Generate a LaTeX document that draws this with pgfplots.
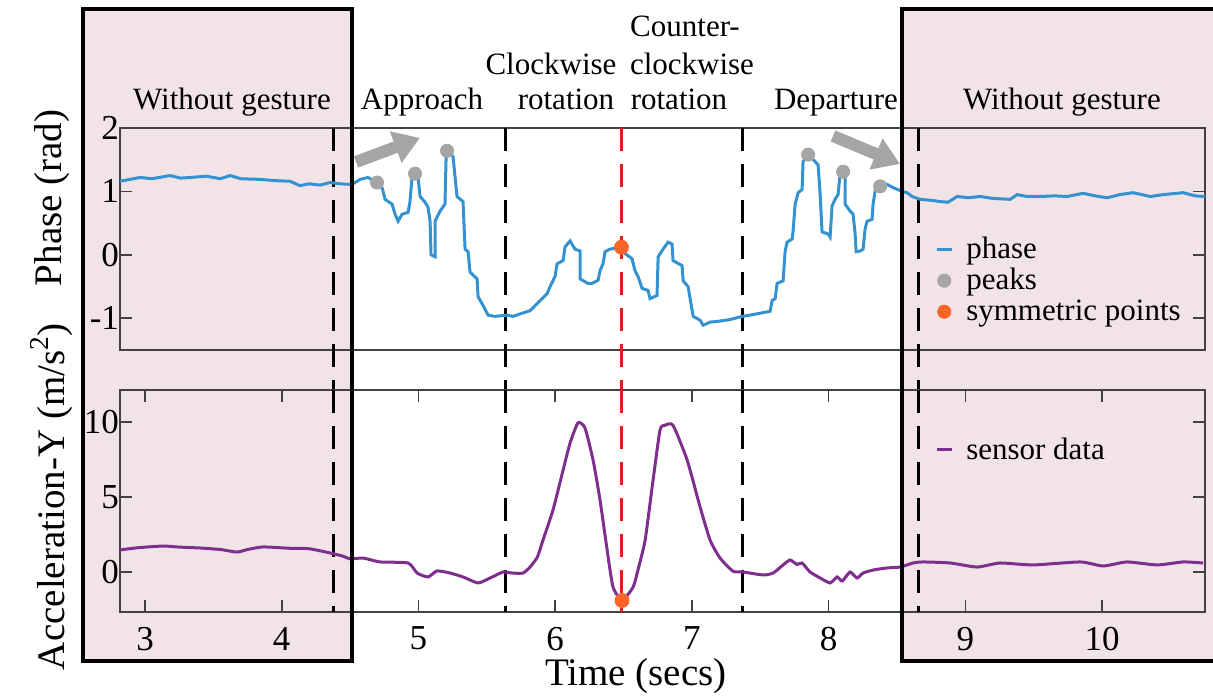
\documentclass[border=0pt]{standalone}
\usepackage{fontspec}
\setmainfont{Liberation Serif}
\newfontfamily\tnr{Liberation Serif}
\usepackage{pgfplots}
\pgfplotsset{compat=1.18}
\usetikzlibrary{arrows.meta}

\definecolor{phaseblue}{RGB}{52,146,208}
\definecolor{accpurple}{RGB}{126,47,142}
\definecolor{peakgray}{RGB}{165,165,165}
\definecolor{symorange}{RGB}{250,100,40}
\definecolor{boxpink}{RGB}{242,228,230}
\definecolor{dashred}{RGB}{225,30,30}
\definecolor{framegray}{RGB}{70,65,65}

\newcommand{\ann}{\tnr\fontsize{15.5}{18}\selectfont}
\newcommand{\tickf}{\tnr\fontsize{17.5}{20}\selectfont}
\newcommand{\labf}{\tnr\fontsize{19.5}{22}\selectfont}

\tikzset{vdash/.style={line width=1.5pt, dash pattern=on 11.5pt off 6.5pt}}

\pgfplotsset{
  gstyle/.style={
    width=542.5pt, height=111pt, scale only axis,
    xmin=2.817, xmax=10.753, clip=false,
    tick align=inside, major tick length=6pt,
    axis line style={framegray, line width=0.8pt},
    tick style={framegray, line width=0.8pt},
    /pgf/number format/assume math mode=true,
    tick label style={font=\tickf},
    yticklabel style={xshift=3pt},
    legend cell align=left,
    legend style={draw=none, fill=none, inner sep=0pt,
      nodes={inner sep=1pt}, column sep=5.5pt, font=\ann},
  },
  lineleg/.style={legend image code/.code={\draw[##1] (0pt,0pt) -- (7.5pt,0pt);}},
  dotleg/.style={legend image code/.code={\fill[##1] (3.75pt,0pt) circle (3.3pt);}},
}

\begin{document}
\begin{tikzpicture}
% shaded "without gesture" regions
\fill[boxpink] (-18.75pt,-24.25pt) rectangle (115.75pt,301.5pt);
\fill[boxpink] (390.75pt,-24.25pt) rectangle (580pt,301.5pt);

% phase
\begin{axis}[gstyle, at={(0pt,131pt)},
  ymin=-1.5, ymax=2, xtick=\empty, ytick={-1,0,1,2},
  every axis y label/.style={at={(axis description cs:-0.063,0.685)}, rotate=90, anchor=center, font=\labf},
  ylabel={Phase (rad)},
  legend style={at={(0.751,0.52)}, anchor=north west, row sep=1.5pt}]
\draw[vdash, black] (axis cs:4.375,2) -- (axis cs:4.375,-2.125);
\draw[vdash, black] (axis cs:5.637,2) -- (axis cs:5.637,-2.125);
\draw[vdash, dashred] (axis cs:6.485,2) -- (axis cs:6.485,-2.125);
\draw[vdash, black] (axis cs:7.371,2) -- (axis cs:7.371,-2.125);
\draw[vdash, black] (axis cs:8.655,2) -- (axis cs:8.655,-2.125);

\addplot[phaseblue, line width=1.5pt, lineleg] table {
x y
2.817 1.16
2.963 1.22
3.05 1.20
3.183 1.25
3.26 1.21
3.329 1.22
3.45 1.24
3.55 1.20
3.622 1.25
3.70 1.20
3.841 1.19
3.95 1.17
4.061 1.16
4.134 1.09
4.20 1.12
4.28 1.10
4.353 1.14
4.426 1.12
4.514 1.11
4.573 1.19
4.631 1.22
4.697 1.14
4.734 1.06
4.756 0.875
4.807 0.80
4.829 0.64
4.851 0.53
4.880 0.64
4.924 0.67
4.938 0.84
4.953 1.22
4.975 1.28
4.997 1.22
5.012 0.92
5.048 0.83
5.070 0.75
5.085 0.53
5.092 0.00
5.121 -0.03
5.121 0.53
5.158 0.69
5.194 0.80
5.202 1.53
5.209 1.64
5.253 1.55
5.268 1.22
5.282 0.92
5.326 0.84
5.341 0.09
5.363 0.05
5.377 -0.27
5.429 -0.38
5.436 -0.66
5.473 -0.80
5.509 -0.95
5.560 -0.97
5.648 -0.95
5.692 -0.97
5.758 -0.92
5.816 -0.88
5.890 -0.72
5.941 -0.61
5.963 -0.50
5.999 -0.34
6.014 -0.14
6.058 -0.09
6.072 0.125
6.109 0.22
6.145 0.09
6.182 0.06
6.182 -0.38
6.240 -0.45
6.270 -0.45
6.314 -0.40
6.328 -0.25
6.350 -0.14
6.365 0.05
6.401 0.09
6.482 0.12
6.511 0.02
6.562 -0.06
6.584 -0.25
6.606 -0.34
6.636 -0.53
6.679 -0.56
6.694 -0.69
6.745 -0.64
6.753 -0.03
6.789 0.09
6.826 0.20
6.855 0.17
6.862 -0.09
6.928 -0.17
6.936 -0.41
6.972 -0.50
7.009 -0.97
7.060 -1.03
7.082 -1.11
7.133 -1.06
7.184 -1.05
7.279 -1.02
7.367 -0.97
7.426 -0.95
7.572 -0.89
7.587 -0.72
7.609 -0.69
7.623 -0.45
7.667 -0.41
7.682 0.06
7.696 0.20
7.733 0.25
7.740 0.37
7.755 0.80
7.777 0.98
7.806 1.03
7.813 1.47
7.850 1.58
7.887 1.50
7.923 1.42
7.938 0.95
7.952 0.36
7.996 0.33
8.011 0.28
8.025 0.77
8.047 0.875
8.069 0.95
8.084 1.27
8.106 1.31
8.120 1.22
8.120 0.80
8.157 0.69
8.179 0.64
8.194 0.33
8.201 0.05
8.230 0.06
8.252 0.09
8.267 0.41
8.281 0.53
8.318 0.56
8.325 0.80
8.340 1.00
8.377 1.08
8.428 1.11
8.472 1.06
8.538 1.00
8.574 0.98
8.611 0.92
8.669 0.875
8.75 0.86
8.815 0.84
8.874 0.83
8.940 0.92
9.02 0.90
9.108 0.92
9.20 0.89
9.328 0.875
9.379 0.95
9.45 0.92
9.547 0.92
9.65 0.93
9.745 0.92
9.862 0.97
9.95 0.93
10.037 0.90
10.13 0.95
10.227 0.98
10.352 0.92
10.45 0.95
10.593 0.98
10.68 0.93
10.753 0.92
};
\addlegendentry{phase}

\addplot[only marks, mark=*, mark size=3.3pt, peakgray, dotleg] table {
x y
4.697 1.14
4.975 1.28
5.209 1.64
7.850 1.58
8.106 1.31
8.377 1.08
};
\addlegendentry{peaks}

\addplot[only marks, mark=*, mark size=3.5pt, symorange, dotleg] table {
x y
6.485 0.12
};
\addlegendentry{symmetric points}
\end{axis}

% acceleration
\begin{axis}[gstyle, at={(0pt,0pt)},
  ymin=-2.667, ymax=12.133, xtick={3,4,5,6,7,8,9,10}, ytick={0,5,10},
  xticklabel style={yshift=-4pt},
  every axis x label/.style={at={(axis description cs:0.4755,-0.329)}, anchor=base, font=\labf},
  xlabel={Time (secs)},
  every axis y label/.style={at={(axis description cs:-0.063,0.52)}, rotate=90, anchor=center, font=\labf},
  ylabel={Acceleration-Y (m/s\textsuperscript{2})},
  legend style={at={(0.751,0.73)}, anchor=west}]
\draw[vdash, black] (axis cs:4.375,12.133) -- (axis cs:4.375,-2.667);
\draw[vdash, black] (axis cs:5.637,12.133) -- (axis cs:5.637,-2.667);
\draw[vdash, dashred] (axis cs:6.485,12.133) -- (axis cs:6.485,-2.667);
\draw[vdash, black] (axis cs:7.371,12.133) -- (axis cs:7.371,-2.667);
\draw[vdash, black] (axis cs:8.655,12.133) -- (axis cs:8.655,-2.667);

\addplot[accpurple, line width=1.5pt, smooth, tension=0.35, lineleg] table {
x y
2.817 1.47
2.95 1.62
3.132 1.73
3.25 1.66
3.402 1.60
3.55 1.50
3.673 1.33
3.75 1.50
3.863 1.67
4.061 1.58
4.20 1.55
4.353 1.27
4.45 1.05
4.500 0.87
4.595 0.93
4.719 0.67
4.924 0.60
4.990 -0.07
5.070 -0.33
5.136 0.07
5.231 -0.07
5.326 -0.33
5.436 -0.73
5.524 -0.40
5.619 0.00
5.685 -0.07
5.765 -0.07
5.816 0.33
5.87 1.0
5.911 2.13
5.984 4.13
6.058 6.8
6.109 8.6
6.167 9.95
6.218 9.6
6.277 7.47
6.328 4.8
6.380 1.47
6.423 -1.0
6.489 -1.9
6.57 -1.0
6.610 0.3
6.658 2.13
6.716 6.13
6.767 9.47
6.804 9.78
6.862 9.78
6.965 7.47
7.060 4.33
7.133 2.13
7.206 0.93
7.301 0.05
7.374 0.00
7.521 -0.2
7.594 -0.07
7.667 0.47
7.718 0.80
7.769 0.50
7.806 0.60
7.864 0.0
7.938 -0.4
8.011 -0.73
8.062 -0.33
8.099 -0.6
8.157 0.0
8.208 -0.4
8.252 -0.07
8.325 0.13
8.428 0.27
8.523 0.33
8.618 0.60
8.691 0.67
8.889 0.60
9.086 0.33
9.254 0.60
9.496 0.47
9.840 0.67
10.008 0.40
10.183 0.67
10.403 0.47
10.593 0.67
10.739 0.60
};
\addlegendentry{sensor data}

\addplot[only marks, mark=*, mark size=3.5pt, symorange, forget plot] table {
x y
6.489 -1.9
};
\end{axis}

% region borders
\draw[black, line width=2pt] (-18.75pt,-24.25pt) rectangle (115.75pt,301.5pt);
\draw[black, line width=2pt] (390.75pt,-24.25pt) rectangle (580pt,301.5pt);

% movement arrows
\draw[peakgray, line width=6pt, -{Triangle[length=13pt, width=16pt]}] (118pt,225pt) -- (150pt,237pt);
\draw[peakgray, line width=6pt, -{Triangle[length=13pt, width=16pt]}] (356.5pt,238pt) -- (390pt,224pt);

% phase names
\node[anchor=base, font=\ann] at (56pt,251pt) {Without gesture};
\node[anchor=base, font=\ann] at (151pt,251pt) {Approach};
\node[anchor=base, font=\ann] at (215.5pt,268.5pt) {Clockwise};
\node[anchor=base, font=\ann] at (223pt,251pt) {rotation};
\node[anchor=base, font=\ann] at (282.5pt,287.5pt) {Counter-};
\node[anchor=base, font=\ann] at (286pt,268.5pt) {clockwise};
\node[anchor=base, font=\ann] at (279.5pt,251pt) {rotation};
\node[anchor=base, font=\ann] at (358pt,251pt) {Departure};
\node[anchor=base, font=\ann] at (471pt,251pt) {Without gesture};

\pgfresetboundingbox
\useasboundingbox (-60pt,-41.5pt) rectangle (546.5pt,306pt);
\end{tikzpicture}
\end{document}
